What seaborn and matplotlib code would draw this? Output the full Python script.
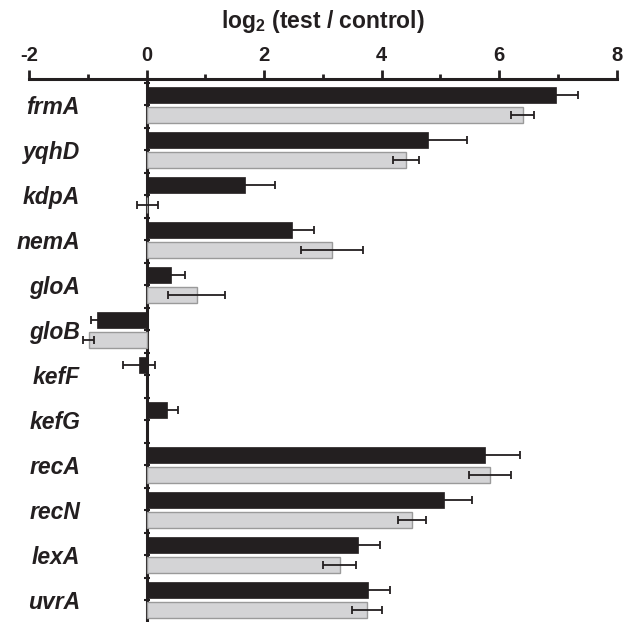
import numpy as np
import pandas as pd
import matplotlib
matplotlib.use("Agg")
import matplotlib.pyplot as plt
import seaborn as sns

plt.rcParams.update({
    "font.family": ["Liberation Sans", "DejaVu Sans"],
    "font.weight": "bold",
    "axes.unicode_minus": False,
    "mathtext.fontset": "custom",
    "mathtext.rm": "Liberation Sans:bold",
    "mathtext.bf": "Liberation Sans:bold",
    "mathtext.it": "Liberation Sans:bold:italic",
    "mathtext.default": "bf",
})

genes = ["frmA", "yqhD", "kdpA", "nemA", "gloA", "gloB",
         "kefF", "kefG", "recA", "recN", "lexA", "uvrA"]
dark_vals = [6.96, 4.79, 1.68, 2.48, 0.42, -0.85, -0.13, 0.35, 5.76, 5.06, 3.59, 3.77]
dark_err = [0.39, 0.66, 0.51, 0.36, 0.24, 0.10, 0.28, 0.19, 0.59, 0.47, 0.39, 0.38]
light_vals = [6.40, 4.42, 0.01, 3.15, 0.85, -0.99, np.nan, np.nan, 5.84, 4.51, 3.29, 3.75]
light_err = [0.20, 0.22, 0.18, 0.53, 0.48, 0.09, np.nan, np.nan, 0.36, 0.24, 0.28, 0.26]

dark_col = "#231f20"
light_col = "#d4d4d6"

df = pd.concat([
    pd.DataFrame({"gene": genes, "series": "dark", "value": dark_vals}),
    pd.DataFrame({"gene": genes, "series": "light", "value": light_vals}),
]).dropna()

fig = plt.figure(figsize=(6.3, 6.22), dpi=100)
ax = fig.add_axes([0.0463, 0.0, 0.9325, 0.8725])

sns.barplot(data=df, x="value", y="gene", hue="series", order=genes,
            hue_order=["dark", "light"], palette={"dark": dark_col, "light": light_col},
            orient="h", width=0.889, gap=0.2, dodge=True, legend=False,
            errorbar=None, saturation=1, ax=ax)

errs = {"dark": dark_err, "light": light_err}
for cont, name, ec, lw in zip(ax.containers, ["dark", "light"],
                              [dark_col, "#9a9a9a"], [0.5, 1.0]):
    for bar in cont:
        bar.set_edgecolor(ec)
        bar.set_linewidth(lw)
        yc = bar.get_y() + bar.get_height() / 2
        gi = int(round(yc))
        xe = bar.get_x() + bar.get_width()
        ax.errorbar(xe, yc, xerr=errs[name][gi], fmt="none", ecolor=dark_col,
                    elinewidth=1.3, capsize=3, capthick=1.3, zorder=3)

ax.set_xlim(-2, 8)
ax.set_ylim(11.478, -0.582)

# top axis
ax.xaxis.tick_top()
ax.xaxis.set_label_position("top")
ax.set_xticks([-2, 0, 2, 4, 6, 8])
ax.set_xticks([-1, 1, 3, 5, 7], minor=True)
ax.tick_params(axis="x", which="major", direction="out", length=6.5, width=2,
               color=dark_col, labelsize=14.5, pad=4, labelcolor=dark_col)
ax.tick_params(axis="x", which="minor", direction="out", length=3.5, width=2,
               color=dark_col)
ax.set_xlabel(r"log$_2$ (test / control)", fontsize=16.5, fontweight="bold",
              labelpad=13, color=dark_col)

for s in ["left", "right", "bottom"]:
    ax.spines[s].set_visible(False)
ax.spines["top"].set_linewidth(2.2)
ax.spines["top"].set_color(dark_col)

# gene labels
ax.set_ylabel("")
ax.set_yticks(range(len(genes)))
ax.set_yticklabels(genes, fontsize=16.5, fontweight="bold", style="italic",
                   color=dark_col, ha="right")
ax.tick_params(axis="y", length=0, pad=-36.6)

# zero line with small ticks
sec = ax.secondary_yaxis(0.2)
sec.set_yticks(np.arange(-0.5, 12, 0.5))
sec.tick_params(direction="inout", length=4, width=1.5, color=dark_col,
                labelleft=False)
sec.spines["left"].set_linewidth(2.2)
sec.spines["left"].set_color(dark_col)

fig.savefig("out.png", dpi=100)
